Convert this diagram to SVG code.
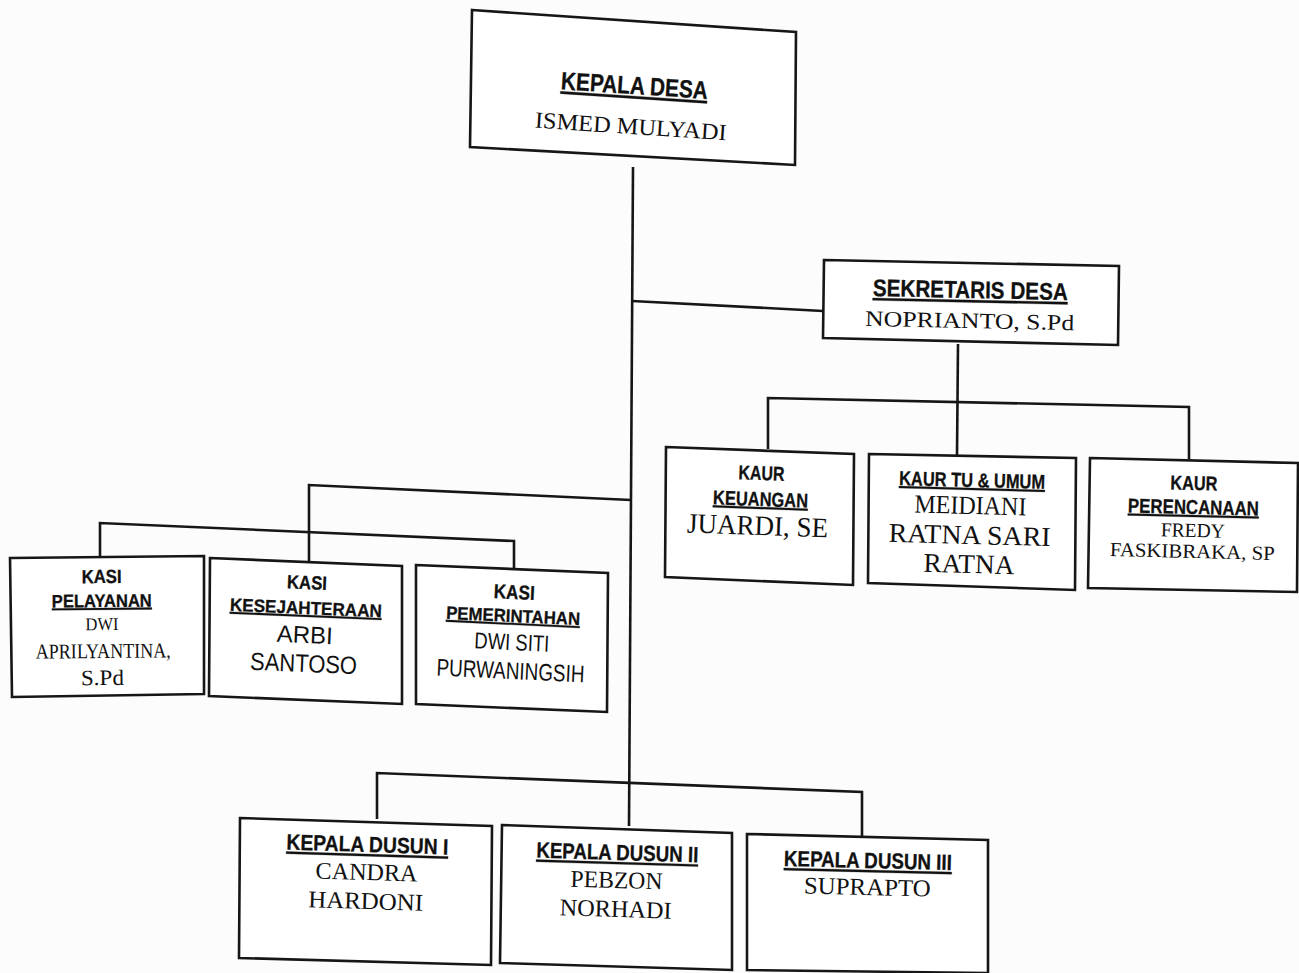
<svg xmlns="http://www.w3.org/2000/svg" width="1299" height="973" viewBox="0 0 1299 973">
<style>
.box{fill:#fff;stroke:#161616;stroke-width:2.6;stroke-linejoin:miter}
.ln{fill:none;stroke:#161616;stroke-width:2.6}
.h{font-family:"Liberation Sans",Arial,sans-serif;font-weight:bold;fill:#111;stroke:#111;stroke-width:0.3;text-anchor:middle}
.u{text-decoration:underline}
.s{font-family:"Liberation Serif","Times New Roman",serif;fill:#111;text-anchor:middle}
.n{font-family:"Liberation Sans",Arial,sans-serif;fill:#111;text-anchor:middle}
</style>
<rect width="1299" height="973" fill="#fcfcfc"/>
<g id="connectors">
<polyline class="ln" points="633,167 629,826"/>
<polyline class="ln" points="632,301 823,311"/>
<polyline class="ln" points="958,344 957,455"/>
<polyline class="ln" points="768,449 768,398 1189,407 1189,459"/>
<polyline class="ln" points="631,500 309,485 309,567"/>
<polyline class="ln" points="100,557 100,523 514,541 514,568"/>
<polyline class="ln" points="377,819 377,773 862,792 862,837"/>
</g>
<g id="kepala-desa">
<polygon class="box" points="472,10 796,32 795,165 470,147"/>
<g transform="rotate(3.8 633 108)">
<text class="h u" x="633" y="94" font-size="25" textLength="147" lengthAdjust="spacingAndGlyphs">KEPALA DESA</text>
<text class="s" x="632" y="134" font-size="23" textLength="192" lengthAdjust="spacingAndGlyphs">ISMED MULYADI</text>
</g>
</g>
<g id="sekretaris-desa">
<polygon class="box" points="824,260 1119,266 1118,345 823,338"/>
<g transform="rotate(1.2 970 305)">
<text class="h u" x="970" y="298" font-size="24" textLength="195" lengthAdjust="spacingAndGlyphs">SEKRETARIS DESA</text>
<text class="s" x="970" y="328" font-size="22" textLength="209" lengthAdjust="spacingAndGlyphs">NOPRIANTO, S.Pd</text>
</g>
</g>
<g id="kaur-keuangan">
<polygon class="box" points="666,447 854,454 853,585 665,577"/>
<g transform="rotate(2 760 515)">
<text class="h" x="760" y="480" font-size="20" textLength="46" lengthAdjust="spacingAndGlyphs">KAUR</text>
<text class="h u" x="760" y="506" font-size="20" textLength="95" lengthAdjust="spacingAndGlyphs">KEUANGAN</text>
<text class="s" x="758" y="535" font-size="28" textLength="141" lengthAdjust="spacingAndGlyphs">JUARDI, SE</text>
</g>
</g>
<g id="kaur-tu-umum">
<polygon class="box" points="869,454 1076,458 1075,590 868,583"/>
<g transform="rotate(1.5 971 522)">
<text class="h u" x="971" y="487" font-size="20" textLength="146" lengthAdjust="spacingAndGlyphs">KAUR TU &amp; UMUM</text>
<text class="s" x="970" y="514" font-size="26" textLength="112" lengthAdjust="spacingAndGlyphs">MEIDIANI</text>
<text class="s" x="970" y="544" font-size="27" textLength="162" lengthAdjust="spacingAndGlyphs">RATNA SARI</text>
<text class="s" x="970" y="573" font-size="27" textLength="91" lengthAdjust="spacingAndGlyphs">RATNA</text>
</g>
</g>
<g id="kaur-perencanaan">
<polygon class="box" points="1090,458 1298,463 1297,592 1088,588"/>
<g transform="rotate(1.4 1193 525)">
<text class="h" x="1193" y="490" font-size="20" textLength="47" lengthAdjust="spacingAndGlyphs">KAUR</text>
<text class="h u" x="1193" y="514" font-size="20" textLength="131" lengthAdjust="spacingAndGlyphs">PERENCANAAN</text>
<text class="s" x="1193" y="537" font-size="20" textLength="64" lengthAdjust="spacingAndGlyphs">FREDY</text>
<text class="s" x="1193" y="558" font-size="20" textLength="165" lengthAdjust="spacingAndGlyphs">FASKIBRAKA, SP</text>
</g>
</g>
<g id="kasi-pelayanan">
<polygon class="box" points="10,558 204,556 204,694 12,697"/>
<g transform="rotate(-0.5 105 626)">
<text class="h" x="102" y="583" font-size="19" textLength="40" lengthAdjust="spacingAndGlyphs">KASI</text>
<text class="h u" x="102" y="607" font-size="18" textLength="100" lengthAdjust="spacingAndGlyphs">PELAYANAN</text>
<text class="s" x="102" y="630" font-size="18" textLength="33" lengthAdjust="spacingAndGlyphs">DWI</text>
<text class="s" x="103" y="658" font-size="21" textLength="135" lengthAdjust="spacingAndGlyphs">APRILYANTINA,</text>
<text class="s" x="102" y="685" font-size="22" textLength="43" lengthAdjust="spacingAndGlyphs">S.Pd</text>
</g>
</g>
<g id="kasi-kesejahteraan">
<polygon class="box" points="210,558 402,566 402,704 209,696"/>
<g transform="rotate(2.4 305 630)">
<text class="h" x="305" y="589" font-size="19" textLength="40" lengthAdjust="spacingAndGlyphs">KASI</text>
<text class="h u" x="305" y="614" font-size="18" textLength="152" lengthAdjust="spacingAndGlyphs">KESEJAHTERAAN</text>
<text class="n" x="305" y="643" font-size="24" textLength="56" lengthAdjust="spacingAndGlyphs">ARBI</text>
<text class="n" x="305" y="672" font-size="25" textLength="107" lengthAdjust="spacingAndGlyphs">SANTOSO</text>
</g>
</g>
<g id="kasi-pemerintahan">
<polygon class="box" points="416,565 608,573 607,712 416,704"/>
<g transform="rotate(2.7 512 640)">
<text class="h" x="512" y="599" font-size="20" textLength="41" lengthAdjust="spacingAndGlyphs">KASI</text>
<text class="h u" x="512" y="622" font-size="18" textLength="134" lengthAdjust="spacingAndGlyphs">PEMERINTAHAN</text>
<text class="n" x="512" y="650" font-size="23" textLength="75" lengthAdjust="spacingAndGlyphs">DWI SITI</text>
<text class="n" x="512" y="679" font-size="24" textLength="148" lengthAdjust="spacingAndGlyphs">PURWANINGSIH</text>
</g>
</g>
<g id="kepala-dusun-1">
<polygon class="box" points="240,818 492,826 491,965 239,958"/>
<g transform="rotate(1.8 366 890)">
<text class="h u" x="366" y="852" font-size="22" textLength="162" lengthAdjust="spacingAndGlyphs">KEPALA DUSUN I</text>
<text class="s" x="366" y="880" font-size="24" textLength="102" lengthAdjust="spacingAndGlyphs">CANDRA</text>
<text class="s" x="366" y="909" font-size="24" textLength="115" lengthAdjust="spacingAndGlyphs">HARDONI</text>
</g>
</g>
<g id="kepala-dusun-2">
<polygon class="box" points="502,825 732,833 732,970 500,963"/>
<g transform="rotate(1.7 616 898)">
<text class="h u" x="616" y="860" font-size="22" textLength="162" lengthAdjust="spacingAndGlyphs">KEPALA DUSUN II</text>
<text class="s" x="616" y="888" font-size="24" textLength="92" lengthAdjust="spacingAndGlyphs">PEBZON</text>
<text class="s" x="616" y="917" font-size="24" textLength="112" lengthAdjust="spacingAndGlyphs">NORHADI</text>
</g>
</g>
<g id="kepala-dusun-3">
<polygon class="box" points="747,834 988,840 988,973 747,970"/>
<g transform="rotate(1.4 867 900)">
<text class="h u" x="867" y="868" font-size="22" textLength="168" lengthAdjust="spacingAndGlyphs">KEPALA DUSUN III</text>
<text class="s" x="867" y="895" font-size="24" textLength="127" lengthAdjust="spacingAndGlyphs">SUPRAPTO</text>
</g>
</g>
</svg>
